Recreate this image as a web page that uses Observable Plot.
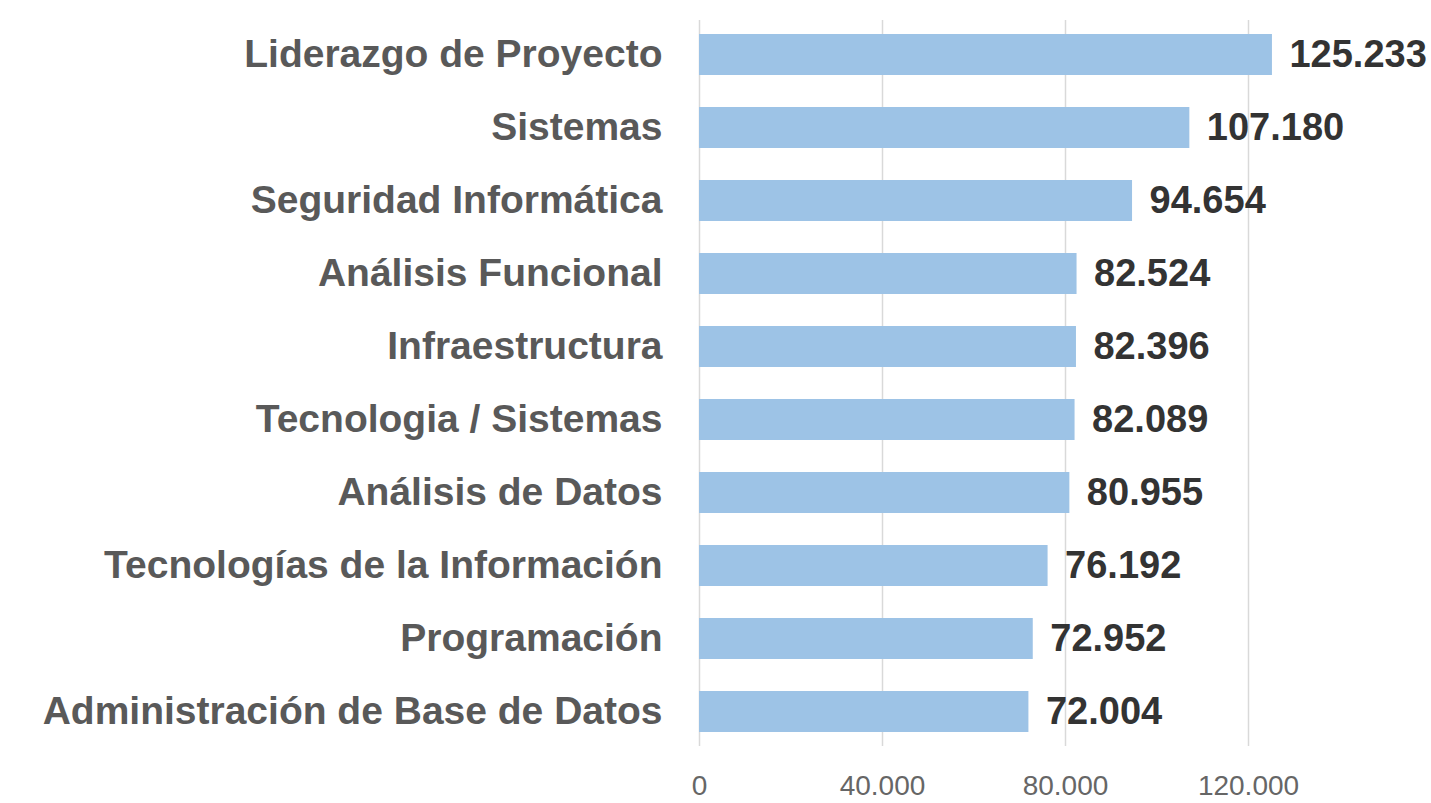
<!DOCTYPE html>
<html>
<head>
<meta charset="utf-8">
<script src="https://cdn.jsdelivr.net/npm/d3@7"></script>
<script src="https://cdn.jsdelivr.net/npm/@observablehq/plot@0.6"></script>
<style>
  html, body { margin: 0; padding: 0; background: #fff; }
  #chart svg { display: block; }
</style>
</head>
<body>
<div id="chart"></div>
<script>
const categories = [
  "Liderazgo de Proyecto",
  "Sistemas",
  "Seguridad Informática",
  "Análisis Funcional",
  "Infraestructura",
  "Tecnologia / Sistemas",
  "Análisis de Datos",
  "Tecnologías de la Información",
  "Programación",
  "Administración de Base de Datos"
];
const values = [125233, 107180, 94654, 82524, 82396, 82089, 80955, 76192, 72952, 72004];
const xTicks = [0, 40000, 80000, 120000];

const data = categories.map((c, i) => ({category: c, value: values[i]}));
const fmt = d3.formatLocale({thousands: ".", decimal: ",", grouping: [3], currency: ["", ""]}).format(",d");
const font = "'Liberation Sans', Arial, sans-serif";

const chart = Plot.plot({
  width: 1431,
  height: 803,
  marginLeft: 699,
  marginRight: 0,
  marginTop: 20,
  marginBottom: 57,
  style: {fontFamily: font, background: "#fff", overflow: "visible"},
  x: {domain: [0, 160000], ticks: xTicks, tickFormat: fmt, grid: false},
  y: {domain: categories, paddingInner: 0.443, paddingOuter: 0.15},
  marks: [
    Plot.ruleX(xTicks, {stroke: "#d9d9d9", strokeWidth: 1.5}),
    Plot.barX(data, {x: "value", y: "category", fill: "#9dc3e6"}),
    Plot.text(data, {
      x: "value", y: "category", text: d => fmt(d.value),
      textAnchor: "start", dx: 17, fill: "#333",
      fontSize: 38, fontWeight: "bold", letterSpacing: "-1px"
    }),
    Plot.axisY({tickSize: 0, tickPadding: 37, fontSize: 39, fontWeight: "bold", letterSpacing: "0.4px", color: "#595959", label: null}),
    Plot.axisX({ticks: xTicks, tickFormat: fmt, tickSize: 0, tickPadding: 29, fontSize: 28, color: "#666", label: null})
  ]
});
document.getElementById("chart").appendChild(chart);
</script>
</body>
</html>
